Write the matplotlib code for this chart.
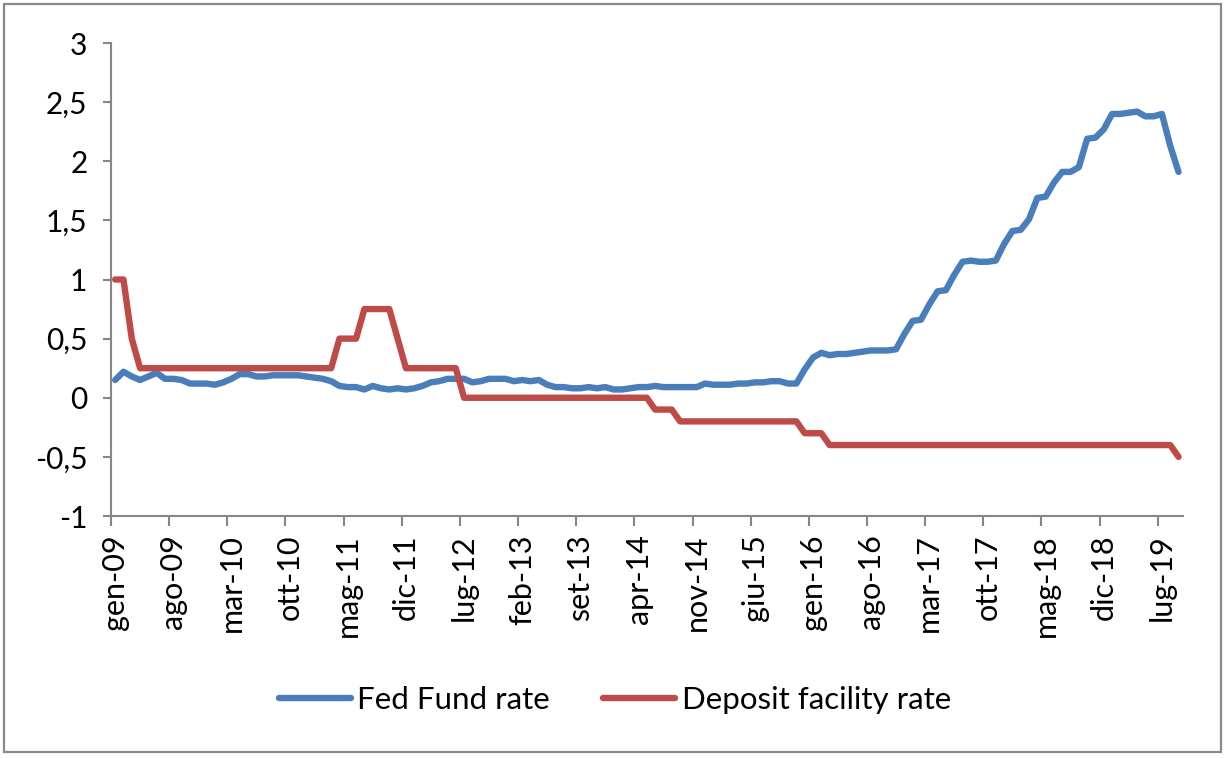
import matplotlib
matplotlib.use('Agg')
import matplotlib.pyplot as plt
import numpy as np
from matplotlib.patches import Rectangle

plt.rcParams['font.family'] = ['Lato', 'DejaVu Sans']

# Fed fund rate, monthly, gen-09 .. set-19
fed_fund = [
    0.15, 0.22, 0.18, 0.15, 0.18, 0.21, 0.16, 0.16, 0.15, 0.12, 0.12, 0.12,
    0.11, 0.13, 0.16, 0.20, 0.20, 0.18, 0.18, 0.19, 0.19, 0.19, 0.19, 0.18,
    0.17, 0.16, 0.14, 0.10, 0.09, 0.09, 0.07, 0.10, 0.08, 0.07, 0.08, 0.07,
    0.08, 0.10, 0.13, 0.14, 0.16, 0.16, 0.16, 0.13, 0.14, 0.16, 0.16, 0.16,
    0.14, 0.15, 0.14, 0.15, 0.11, 0.09, 0.09, 0.08, 0.08, 0.09, 0.08, 0.09,
    0.07, 0.07, 0.08, 0.09, 0.09, 0.10, 0.09, 0.09, 0.09, 0.09, 0.09, 0.12,
    0.11, 0.11, 0.11, 0.12, 0.12, 0.13, 0.13, 0.14, 0.14, 0.12, 0.12, 0.24,
    0.34, 0.38, 0.36, 0.37, 0.37, 0.38, 0.39, 0.40, 0.40, 0.40, 0.41, 0.54,
    0.65, 0.66, 0.79, 0.90, 0.91, 1.04, 1.15, 1.16, 1.15, 1.15, 1.16, 1.30,
    1.41, 1.42, 1.51, 1.69, 1.70, 1.82, 1.91, 1.91, 1.95, 2.19, 2.20, 2.27,
    2.40, 2.40, 2.41, 2.42, 2.38, 2.38, 2.40, 2.13, 1.91,
]

# ECB deposit facility rate, same months
deposit = [
    1.00, 1.00, 0.50, 0.25, 0.25, 0.25, 0.25, 0.25, 0.25, 0.25, 0.25, 0.25,
    0.25, 0.25, 0.25, 0.25, 0.25, 0.25, 0.25, 0.25, 0.25, 0.25, 0.25, 0.25,
    0.25, 0.25, 0.25, 0.50, 0.50, 0.50, 0.75, 0.75, 0.75, 0.75, 0.50, 0.25,
    0.25, 0.25, 0.25, 0.25, 0.25, 0.25, 0.00, 0.00, 0.00, 0.00, 0.00, 0.00,
    0.00, 0.00, 0.00, 0.00, 0.00, 0.00, 0.00, 0.00, 0.00, 0.00, 0.00, 0.00,
    0.00, 0.00, 0.00, 0.00, 0.00, -0.10, -0.10, -0.10, -0.20, -0.20, -0.20, -0.20,
    -0.20, -0.20, -0.20, -0.20, -0.20, -0.20, -0.20, -0.20, -0.20, -0.20, -0.20, -0.30,
    -0.30, -0.30, -0.40, -0.40, -0.40, -0.40, -0.40, -0.40, -0.40, -0.40, -0.40, -0.40,
    -0.40, -0.40, -0.40, -0.40, -0.40, -0.40, -0.40, -0.40, -0.40, -0.40, -0.40, -0.40,
    -0.40, -0.40, -0.40, -0.40, -0.40, -0.40, -0.40, -0.40, -0.40, -0.40, -0.40, -0.40,
    -0.40, -0.40, -0.40, -0.40, -0.40, -0.40, -0.40, -0.40, -0.50,
]

x_labels = ['gen-09', 'ago-09', 'mar-10', 'ott-10', 'mag-11', 'dic-11', 'lug-12',
            'feb-13', 'set-13', 'apr-14', 'nov-14', 'giu-15', 'gen-16', 'ago-16',
            'mar-17', 'ott-17', 'mag-18', 'dic-18', 'lug-19']
y_values = [-1, -0.5, 0, 0.5, 1, 1.5, 2, 2.5, 3]
y_labels = ['-1', '-0,5', '0', '0,5', '1', '1,5', '2', '2,5', '3']

n = len(fed_fund)
x = np.arange(n) + 0.5   # points sit between tick marks (category axis)

fig = plt.figure(figsize=(12.24, 7.58), dpi=100)
ax = fig.add_axes([111 / 1224, 1 - 516 / 758, (1182.7 - 111) / 1224, (516 - 43) / 758])

blue = '#4a7ebb'
red = '#be4b48'
ax.plot(x, fed_fund, color=blue, lw=4.6, solid_capstyle='round', solid_joinstyle='round',
        label='Fed Fund rate', clip_on=False)
ax.plot(x, deposit, color=red, lw=4.6, solid_capstyle='round', solid_joinstyle='round',
        label='Deposit facility rate', clip_on=False)

ax.set_xlim(0, n)
ax.set_ylim(-1, 3)

for s in ['top', 'right']:
    ax.spines[s].set_visible(False)
for s in ['left', 'bottom']:
    ax.spines[s].set_color('#868686')
    ax.spines[s].set_linewidth(1.5)

ax.set_yticks(y_values)
ax.set_yticklabels(y_labels)
ax.tick_params(axis='y', length=6, width=1.5, color='#868686', pad=11, labelsize=21.5)

major = np.arange(0, n, 7)
ax.set_xticks(major)
ax.set_xticklabels([])
ax.set_xticks(major + 0.5, minor=True)
ax.set_xticklabels(x_labels, minor=True, rotation=90, fontsize=22)
ax.tick_params(axis='x', which='major', length=7, width=1.5, color='#868686')
ax.tick_params(axis='x', which='minor', length=0, pad=13)

fig.legend(loc='center', bbox_to_anchor=(0.5025, 0.0765), ncol=2, frameon=False,
           fontsize=22.5, handlelength=2.3, handletextpad=0.22, columnspacing=1.7)

# outer chart border
fig.patches.append(Rectangle((4 / 1224, 6 / 758), 1217 / 1224, 748 / 758,
                             transform=fig.transFigure, fill=False,
                             edgecolor='#8a8a8a', linewidth=1.6))

fig.savefig('out.png', dpi=100)
